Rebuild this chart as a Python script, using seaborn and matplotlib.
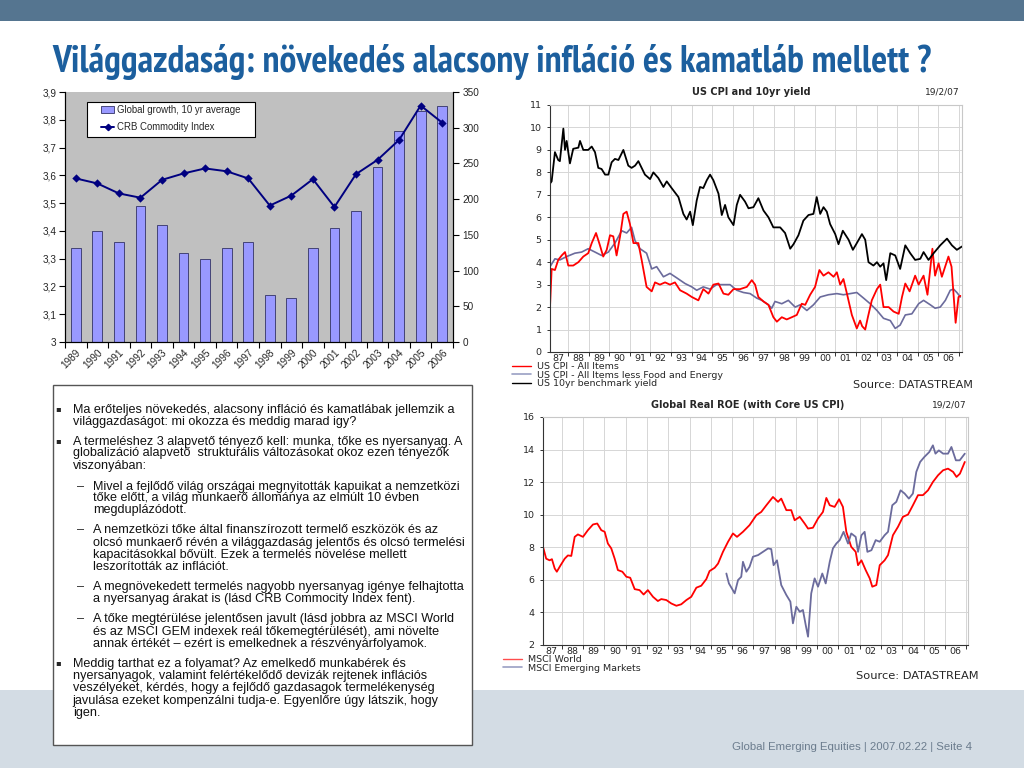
import numpy as np
import pandas as pd
import matplotlib
matplotlib.use("Agg")
import matplotlib.pyplot as plt
import seaborn as sns
from matplotlib import font_manager
from matplotlib.font_manager import FontProperties
from matplotlib.patches import Rectangle, Patch
from matplotlib.lines import Line2D
from matplotlib.ticker import FuncFormatter, MultipleLocator

# ---------------- data ----------------
years = ['1989', '1990', '1991', '1992', '1993', '1994', '1995', '1996', '1997',
         '1998', '1999', '2000', '2001', '2002', '2003', '2004', '2005', '2006']
growth = [3.34, 3.40, 3.36, 3.49, 3.42, 3.32, 3.30, 3.34, 3.36,
          3.17, 3.16, 3.34, 3.41, 3.47, 3.63, 3.76, 3.83, 3.85]
crb = [229, 222, 208, 202, 227, 236, 243, 239, 229,
       191, 205, 228, 189, 235, 255, 283, 331, 307]

year_short = ['87', '88', '89', '90', '91', '92', '93', '94', '95', '96',
              '97', '98', '99', '00', '01', '02', '03', '04', '05', '06']

# US 10yr benchmark yield (decimal year, %)
yld = [(1987.11, 7.5), (1987.19, 7.6), (1987.35, 8.9), (1987.51, 8.55), (1987.59, 8.5), (1987.76, 9.95),
       (1987.84, 9.0), (1987.92, 9.4), (1988.08, 8.4), (1988.24, 9.05), (1988.49, 9.1), (1988.57, 9.4),
       (1988.73, 9.0), (1988.97, 9.0), (1989.14, 9.15), (1989.30, 8.9), (1989.46, 8.2), (1989.62, 8.15),
       (1989.79, 7.9), (1989.95, 7.9), (1990.11, 8.45), (1990.27, 8.6), (1990.44, 8.55), (1990.68, 9.0),
       (1990.92, 8.3), (1991.08, 8.2), (1991.25, 8.3), (1991.41, 8.5), (1991.57, 8.2), (1991.73, 7.9),
       (1991.98, 7.7), (1992.14, 8.0), (1992.38, 7.75), (1992.63, 7.35), (1992.79, 7.6), (1993.03, 7.3),
       (1993.36, 6.9), (1993.60, 6.15), (1993.76, 5.9), (1993.93, 6.25), (1994.06, 5.65), (1994.25, 6.75),
       (1994.41, 7.35), (1994.57, 7.3), (1994.74, 7.65), (1994.90, 7.9), (1995.06, 7.65), (1995.31, 7.05),
       (1995.47, 6.1), (1995.63, 6.55), (1995.79, 6.0), (1996.04, 5.65), (1996.20, 6.55), (1996.36, 7.0),
       (1996.60, 6.7), (1996.77, 6.4), (1997.01, 6.45), (1997.25, 6.85), (1997.50, 6.3), (1997.74, 6.0),
       (1997.98, 5.55), (1998.31, 5.55), (1998.55, 5.3), (1998.80, 4.6), (1998.96, 4.8), (1999.20, 5.2),
       (1999.44, 5.85), (1999.69, 6.1), (1999.93, 6.15), (2000.09, 6.9), (2000.26, 6.15), (2000.42, 6.45),
       (2000.58, 6.25), (2000.74, 5.7), (2000.99, 5.25), (2001.15, 4.8), (2001.36, 5.4), (2001.64, 5.0),
       (2001.85, 4.55), (2002.01, 4.8), (2002.29, 5.25), (2002.45, 5.0), (2002.61, 4.0), (2002.85, 3.85),
       (2003.02, 4.0), (2003.18, 3.8), (2003.34, 3.95), (2003.47, 3.2), (2003.67, 4.4), (2003.91, 4.3),
       (2004.15, 3.7), (2004.40, 4.75), (2004.64, 4.4), (2004.88, 4.1), (2005.13, 4.15), (2005.29, 4.45),
       (2005.53, 4.1), (2005.78, 4.4), (2006.10, 4.75), (2006.43, 5.05), (2006.67, 4.75), (2006.91, 4.55),
       (2007.16, 4.7)]

# US CPI - All Items
cpi = [(1987.11, 2.0), (1987.19, 3.7), (1987.35, 3.65), (1987.51, 4.1), (1987.68, 4.3), (1987.84, 4.45),
       (1988.0, 3.85), (1988.24, 3.85), (1988.49, 4.0), (1988.73, 4.25), (1988.97, 4.4), (1989.14, 4.85),
       (1989.35, 5.3), (1989.54, 4.75), (1989.70, 4.25), (1989.87, 4.55), (1990.03, 5.2), (1990.19, 5.15),
       (1990.35, 4.3), (1990.52, 5.15), (1990.68, 6.15), (1990.84, 6.25), (1991.0, 5.7), (1991.17, 4.85),
       (1991.41, 4.85), (1991.57, 4.1), (1991.81, 2.9), (1992.06, 2.7), (1992.22, 3.1), (1992.46, 3.0),
       (1992.71, 3.1), (1992.95, 3.0), (1993.19, 3.1), (1993.44, 2.75), (1993.76, 2.6), (1994.01, 2.45),
       (1994.33, 2.3), (1994.57, 2.8), (1994.82, 2.6), (1995.06, 3.0), (1995.31, 3.05), (1995.55, 2.6),
       (1995.79, 2.55), (1996.04, 2.8), (1996.36, 2.8), (1996.69, 2.9), (1996.93, 3.2), (1997.09, 3.0),
       (1997.25, 2.45), (1997.50, 2.25), (1997.74, 2.1), (1997.98, 1.55), (1998.15, 1.35), (1998.39, 1.55),
       (1998.63, 1.45), (1998.88, 1.55), (1999.12, 1.65), (1999.36, 2.15), (1999.53, 2.1), (1999.77, 2.55),
       (2000.01, 2.9), (2000.22, 3.65), (2000.42, 3.4), (2000.66, 3.55), (2000.91, 3.35), (2001.07, 3.55),
       (2001.23, 3.0), (2001.39, 3.25), (2001.56, 2.6), (2001.80, 1.65), (2002.04, 1.05), (2002.20, 1.4),
       (2002.30, 1.15), (2002.45, 1.0), (2002.58, 1.55), (2002.77, 2.3), (2003.02, 2.8), (2003.18, 3.0),
       (2003.34, 2.0), (2003.59, 2.0), (2003.83, 1.8), (2004.08, 1.7), (2004.24, 2.45), (2004.40, 3.05),
       (2004.61, 2.7), (2004.88, 3.4), (2005.05, 3.0), (2005.29, 3.4), (2005.48, 2.55), (2005.72, 4.6),
       (2005.85, 3.4), (2006.02, 3.95), (2006.18, 3.35), (2006.50, 4.25), (2006.65, 3.8), (2006.85, 1.3),
       (2006.99, 2.45), (2007.08, 2.5)]

# US CPI - All Items less Food and Energy
core = [(1987.11, 3.8), (1987.35, 4.15), (1987.59, 4.1), (1987.92, 4.25), (1988.32, 4.4), (1988.65, 4.45),
        (1988.97, 4.6), (1989.30, 4.45), (1989.62, 4.3), (1989.95, 4.45), (1990.27, 4.85), (1990.60, 5.4),
        (1990.84, 5.3), (1991.08, 5.55), (1991.25, 4.95), (1991.49, 4.6), (1991.81, 4.4), (1992.06, 3.7),
        (1992.30, 3.8), (1992.63, 3.35), (1992.95, 3.5), (1993.28, 3.3), (1993.68, 3.05), (1994.01, 2.9),
        (1994.25, 2.75), (1994.57, 2.9), (1994.90, 2.8), (1995.22, 3.0), (1995.55, 3.0), (1995.87, 3.0),
        (1996.20, 2.75), (1996.52, 2.65), (1996.85, 2.6), (1997.17, 2.4), (1997.42, 2.3), (1997.74, 2.1),
        (1997.90, 1.95), (1998.06, 2.25), (1998.39, 2.15), (1998.71, 2.3), (1999.04, 2.0), (1999.28, 2.1),
        (1999.61, 1.85), (1999.93, 2.1), (2000.26, 2.45), (2000.66, 2.55), (2001.07, 2.6), (2001.39, 2.55),
        (2001.72, 2.6), (2002.04, 2.65), (2002.37, 2.4), (2002.69, 2.15), (2003.02, 1.85), (2003.34, 1.5),
        (2003.67, 1.4), (2003.91, 1.05), (2004.15, 1.2), (2004.40, 1.65), (2004.72, 1.7), (2005.05, 2.15),
        (2005.29, 2.3), (2005.62, 2.1), (2005.85, 1.95), (2006.10, 2.0), (2006.35, 2.3), (2006.59, 2.75),
        (2006.75, 2.8), (2006.91, 2.65), (2007.08, 2.45)]

# Global real ROE: MSCI World
world = [(1987.11, 8.03), (1987.26, 7.3), (1987.42, 7.2), (1987.53, 7.27), (1987.66, 6.7), (1987.76, 6.5),
         (1987.92, 6.86), (1988.13, 7.3), (1988.28, 7.5), (1988.44, 7.47), (1988.60, 8.64), (1988.75, 8.79),
         (1988.99, 8.64), (1989.22, 9.05), (1989.46, 9.4), (1989.66, 9.46), (1989.85, 9.05), (1990.01, 8.95),
         (1990.16, 8.23), (1990.32, 7.93), (1990.48, 7.3), (1990.63, 6.6), (1990.84, 6.5), (1991.03, 6.19),
         (1991.21, 6.13), (1991.42, 5.43), (1991.65, 5.37), (1991.84, 5.1), (1992.04, 5.37), (1992.28, 4.96),
         (1992.51, 4.7), (1992.67, 4.82), (1992.91, 4.76), (1993.14, 4.55), (1993.38, 4.41), (1993.61, 4.5),
         (1993.85, 4.76), (1994.08, 4.96), (1994.32, 5.52), (1994.55, 5.64), (1994.79, 6.05), (1994.94, 6.54),
         (1995.18, 6.74), (1995.34, 7.0), (1995.57, 7.72), (1995.81, 8.34), (1996.04, 8.85), (1996.23, 8.64),
         (1996.51, 8.95), (1996.82, 9.36), (1997.14, 9.97), (1997.37, 10.17), (1997.61, 10.58), (1997.92, 11.09),
         (1998.16, 10.79), (1998.31, 10.99), (1998.55, 10.28), (1998.78, 10.28), (1998.94, 9.66), (1999.18, 9.87),
         (1999.41, 9.46), (1999.57, 9.15), (1999.80, 9.2), (2000.04, 9.77), (2000.27, 10.17), (2000.43, 11.03),
         (2000.59, 10.58), (2000.82, 10.48), (2001.03, 10.95), (2001.21, 10.48), (2001.37, 8.95), (2001.60, 8.03),
         (2001.81, 7.72), (2001.92, 6.9), (2002.08, 7.2), (2002.28, 6.6), (2002.47, 6.09), (2002.59, 5.58),
         (2002.78, 5.68), (2002.94, 6.9), (2003.17, 7.2), (2003.33, 7.52), (2003.56, 8.74), (2003.80, 9.26),
         (2004.03, 9.87), (2004.27, 10.01), (2004.50, 10.58), (2004.74, 11.2), (2004.97, 11.2), (2005.21, 11.5),
         (2005.44, 12.01), (2005.68, 12.42), (2005.92, 12.73), (2006.15, 12.83), (2006.39, 12.63), (2006.55, 12.32),
         (2006.71, 12.52), (2006.94, 13.24)]

# Global real ROE: MSCI Emerging Markets
em = [(1995.73, 6.39), (1995.85, 5.78), (1995.99, 5.47), (1996.12, 5.17), (1996.28, 5.99), (1996.43, 6.19),
      (1996.51, 7.11), (1996.67, 6.5), (1996.82, 6.8), (1996.98, 7.42), (1997.22, 7.52), (1997.45, 7.72),
      (1997.69, 7.93), (1997.84, 7.89), (1997.95, 6.9), (1998.11, 7.2), (1998.31, 5.68), (1998.55, 5.07),
      (1998.74, 4.66), (1998.86, 3.33), (1999.02, 4.35), (1999.18, 4.04), (1999.33, 4.15), (1999.46, 3.23),
      (1999.57, 2.51), (1999.72, 5.17), (1999.88, 6.09), (2000.04, 5.58), (2000.24, 6.39), (2000.40, 5.78),
      (2000.59, 7.11), (2000.74, 7.93), (2000.90, 8.23), (2001.06, 8.44), (2001.24, 8.95), (2001.45, 8.23),
      (2001.60, 8.85), (2001.81, 8.64), (2001.92, 7.72), (2002.08, 8.74), (2002.23, 8.95), (2002.36, 7.72),
      (2002.55, 7.82), (2002.75, 8.44), (2002.94, 8.34), (2003.17, 8.74), (2003.33, 8.95), (2003.53, 10.58),
      (2003.72, 10.79), (2003.92, 11.5), (2004.11, 11.3), (2004.31, 10.99), (2004.50, 11.3), (2004.66, 12.63),
      (2004.84, 13.24), (2005.04, 13.55), (2005.27, 13.85), (2005.44, 14.26), (2005.56, 13.75), (2005.72, 13.95),
      (2005.92, 13.75), (2006.15, 13.75), (2006.31, 14.16), (2006.52, 13.34), (2006.70, 13.34), (2006.94, 13.75)]

title = "Világgazdaság: növekedés alacsony infláció és kamatláb mellett ?"
footer = "Global Emerging Equities | 2007.02.22 | Seite 4"

# (kind, y-pixel, text): b = bullet, c = continuation, d = dash item, e = dash continuation
body = [
    ('b', 410.0, "Ma erőteljes növekedés, alacsony infláció és kamatlábak jellemzik a"),
    ('c', 421.7, "világgazdaságot: mi okozza és meddig marad igy?"),
    ('b', 441.7, "A termeléshez 3 alapvető tényező kell: munka, tőke es nyersanyag. A"),
    ('c', 453.3, "globalizáció alapvető  strukturális változásokat okoz ezen tényezők"),
    ('c', 465.7, "viszonyában:"),
    ('d', 486.7, "Mivel a fejlődő világ országai megnyitották kapuikat a nemzetközi"),
    ('e', 498.3, "tőke előtt, a világ munkaerő állománya az elmúlt 10 évben"),
    ('e', 509.7, "megduplázódott."),
    ('d', 530.0, "A nemzetközi tőke által finanszírozott termelő eszközök és az"),
    ('e', 542.7, "olcsó munkaerő révén a világgazdaság jelentős és olcsó termelési"),
    ('e', 555.0, "kapacitásokkal bővült. Ezek a termelés növelése mellett"),
    ('e', 566.7, "leszorították az inflációt."),
    ('d', 587.3, "A megnövekedett termelés nagyobb nyersanyag igénye felhajtotta"),
    ('e', 599.3, "a nyersanyag árakat is (lásd CRB Commocity Index fent)."),
    ('d', 619.3, "A tőke megtérülése jelentősen javult (lásd jobbra az MSCI World"),
    ('e', 631.7, "és az MSCI GEM indexek reál tőkemegtérülését), ami növelte"),
    ('e', 644.0, "annak értékét – ezért is emelkednek a részvényárfolyamok."),
    ('b', 664.0, "Meddig tarthat ez a folyamat? Az emelkedő munkabérek és"),
    ('c', 676.0, "nyersanyagok, valamint felértékelődő devizák rejtenek inflációs"),
    ('c', 688.3, "veszélyeket, kérdés, hogy a fejlődő gazdasagok termelékenység"),
    ('c', 700.7, "javulása ezeket kompenzálni tudja-e. Egyenlőre úgy látszik, hogy"),
    ('c', 712.7, "igen."),
]

# ---------------- style ----------------
sns.set_theme(style="ticks")
plt.rcParams['font.family'] = ['DejaVu Sans']
ARIAL = ['Liberation Sans', 'DejaVu Sans']

# pick a condensed bold face for the slide title if one is installed
title_fp = None
cond = ('condensed', 'semi-condensed', 'extra-condensed', 'ultra-condensed')
cands = []
for f in font_manager.fontManager.ttflist:
    nm = f.name.lower()
    is_cond = (f.stretch in cond) or ('condensed' in nm) or ('narrow' in nm)
    wt = f.weight if isinstance(f.weight, int) else {'bold': 700, 'normal': 400}.get(f.weight, 400)
    if is_cond and wt >= 600 and f.style == 'normal' and 'mono' not in nm:
        score = (0 if ('narrow' in nm or 'arial' in nm) else 1,
                 0 if f.stretch == 'condensed' or 'condensed' in nm else 1, abs(wt - 700))
        cands.append((score, f.fname))
if cands:
    cands.sort()
    title_fp = FontProperties(fname=cands[0][1])
else:
    title_fp = FontProperties(family='Liberation Sans', weight='bold')

W, H = 1024, 768
fig = plt.figure(figsize=(W / 100, H / 100), dpi=100)
fig.patch.set_facecolor('white')


def fx(p):
    return p / W


def fy(p):
    return 1 - p / H


def rect(x0, y0, x1, y1):
    return [fx(x0), fy(y1), (x1 - x0) / W, (y1 - y0) / H]


# slide decoration
fig.add_artist(Rectangle((0, fy(21)), 1, 21 / H, transform=fig.transFigure,
                         facecolor='#557590', edgecolor='none', zorder=0))
fig.add_artist(Rectangle((0, 0), 1, fy(690), transform=fig.transFigure,
                         facecolor='#d3dce4', edgecolor='none', zorder=0))
fig.add_artist(Rectangle((fx(53), fy(745)), 419 / W, 360 / H, transform=fig.transFigure,
                         facecolor='white', edgecolor='#555555', lw=1.0, zorder=1))

# title, sized to span the same width as in the slide
title_fp.set_size(23)
t = fig.text(fx(52), fy(62), title, ha='left', va='center', fontproperties=title_fp,
             color='#1c5f9e', weight='bold')
r = fig.canvas.get_renderer()
w = t.get_window_extent(r).width
t.set_fontsize(23 * 876 / w)

# ---------------- left chart ----------------
df_left = pd.DataFrame({'year': years, 'growth': growth, 'crb': crb})
ax1 = fig.add_axes(rect(65, 92, 453, 342))
ax1.set_facecolor('#c0c0c0')
sns.barplot(data=df_left, x='year', y='growth', ax=ax1, color='#9999ff', saturation=1,
            width=0.45, edgecolor='#333366', linewidth=0.6)
ax2 = ax1.twinx()
sns.pointplot(data=df_left, x='year', y='crb', ax=ax2, color='#000080', markers='D',
              markersize=3.2, linewidth=1.4, errorbar=None)
ax1.set_ylim(3, 3.9)
ax2.set_ylim(0, 350)
ax1.set_xlim(-0.5, len(years) - 0.5)


def comma_fmt(v, pos):
    s = f'{v:.1f}'
    if s.endswith('.0'):
        s = s[:-2]
    return s.replace('.', ',')


ax1.yaxis.set_major_locator(MultipleLocator(0.1))
ax1.yaxis.set_major_formatter(FuncFormatter(comma_fmt))
ax2.yaxis.set_major_locator(MultipleLocator(50))
for a in (ax1, ax2):
    a.set_xlabel('')
    a.set_ylabel('')
    a.spines['top'].set_visible(False)
    for s in a.spines.values():
        s.set_color('black')
        s.set_linewidth(0.8)
ax1.set_xticks(range(len(years)))
ax1.set_xticklabels(years, rotation=45, ha='right', va='top', rotation_mode='anchor',
                    fontsize=7.2, family=ARIAL)
ax1.set_xticks(np.arange(len(years) + 1) - 0.5, minor=True)
ax1.tick_params(axis='x', which='major', length=0, pad=4)
ax1.tick_params(axis='x', which='minor', length=4, width=0.8, color='black', direction='out')
ax1.tick_params(axis='y', length=4, width=0.8, color='black', direction='out', labelsize=7.2, pad=2)
ax2.tick_params(axis='y', length=4, width=0.8, color='black', direction='out', labelsize=7.2, pad=3)
for lab in ax1.get_yticklabels() + ax2.get_yticklabels():
    lab.set_family(ARIAL)

ax2.add_patch(Rectangle((fx(87), fy(137)), 168 / W, 35 / H, transform=fig.transFigure,
                        facecolor='white', edgecolor='black', lw=0.8, zorder=4, clip_on=False))
ax2.legend([Patch(facecolor='#9999ff', edgecolor='#333366', lw=0.6),
            Line2D([], [], color='#000080', marker='D', markersize=3.2, lw=1.4)],
           ['Global growth, 10 yr average', 'CRB Commodity Index'],
           loc='upper left', bbox_to_anchor=(fx(101), fy(105)), bbox_transform=fig.transFigure,
           frameon=False, prop={'family': ARIAL, 'size': 6.9}, handlelength=1.4,
           handletextpad=0.3, labelspacing=0.75, borderpad=0, borderaxespad=0)

# ---------------- datastream charts ----------------
T0, T1 = 1987.11, 2007.16
edges = list(range(1988, 2008))
mids = [1987.5 + i for i in range(len(year_short))]


def ds_style(ax, ylo, yhi, ystep):
    ax.set_facecolor('white')
    ax.set_xlim(T0, T1)
    ax.set_ylim(ylo, yhi)
    ax.set_yticks(np.arange(ylo, yhi + 0.01, ystep))
    ax.set_xticks(edges)
    ax.set_xticklabels([])
    ax.set_xticks(mids, minor=True)
    ax.set_xticklabels(year_short, minor=True)
    ax.grid(True, which='major', color='#d6d6d6', lw=0.7)
    ax.set_axisbelow(True)
    ax.tick_params(axis='x', which='major', length=3, width=0.7, color='#333333', direction='out')
    ax.tick_params(axis='x', which='minor', length=0, labelsize=6.8, pad=1.5)
    ax.tick_params(axis='y', length=2, width=0.7, color='#333333', labelsize=6.8, pad=4)
    ax.set_xlabel('')
    ax.set_ylabel('')
    for s in ('top', 'right'):
        ax.spines[s].set_color('#c8c8c8')
        ax.spines[s].set_linewidth(0.8)
    for s in ('left', 'bottom'):
        ax.spines[s].set_color('#333333')
        ax.spines[s].set_linewidth(0.8)


RED = '#ff0000'
GREY = '#6b6b9c'

ax3 = fig.add_axes(rect(550, 105, 962, 352))
for series, col, lw in ((core, GREY, 1.2), (cpi, RED, 1.3), (yld, 'black', 1.3)):
    tt, vv = zip(*series)
    sns.lineplot(x=list(tt), y=list(vv), ax=ax3, color=col, linewidth=lw,
                 estimator=None, sort=False, legend=False)
ds_style(ax3, 0, 11, 1)
fig.text(fx(751), fy(92), 'US CPI and 10yr yield', ha='center', va='center',
         fontsize=7, weight='bold')
fig.text(fx(960), fy(92), '19/2/07', ha='right', va='center', fontsize=6.5)
ax3.legend([Line2D([], [], color=RED, lw=1.0), Line2D([], [], color='#9aa0c4', lw=1.2),
            Line2D([], [], color='black', lw=1.0)],
           ['US CPI - All Items', 'US CPI - All Items less Food and Energy', 'US 10yr benchmark yield'],
           loc='upper left', bbox_to_anchor=(fx(511.7), fy(362.5)), bbox_transform=fig.transFigure,
           frameon=False, fontsize=6.8, handlelength=2.0, handletextpad=0.7,
           labelspacing=-0.08, borderpad=0, borderaxespad=0)
fig.text(fx(853), fy(385), 'Source: DATASTREAM', ha='left', va='center', fontsize=8)

ax4 = fig.add_axes(rect(543, 417, 968, 645))
for series, col, lw in ((world, RED, 1.3), (em, GREY, 1.3)):
    tt, vv = zip(*series)
    sns.lineplot(x=list(tt), y=list(vv), ax=ax4, color=col, linewidth=lw,
                 estimator=None, sort=False, legend=False)
ds_style(ax4, 2, 16, 2)
ax4.set_xlim(1987.11, 2007.09)
fig.text(fx(748), fy(405.5), 'Global Real ROE (with Core US CPI)', ha='center', va='center',
         fontsize=7, weight='bold')
fig.text(fx(967), fy(405.5), '19/2/07', ha='right', va='center', fontsize=6.5)
ax4.legend([Line2D([], [], color='#ff4d4d', lw=1.0), Line2D([], [], color='#9aa0c4', lw=1.2)],
           ['MSCI World', 'MSCI Emerging Markets'],
           loc='upper left', bbox_to_anchor=(fx(503), fy(655.5)), bbox_transform=fig.transFigure,
           frameon=False, fontsize=6.8, handlelength=2.0, handletextpad=0.7,
           labelspacing=-0.08, borderpad=0, borderaxespad=0)
fig.text(fx(856), fy(676), 'Source: DATASTREAM', ha='left', va='center', fontsize=8.2)

# ---------------- text box ----------------
BODY_FS = 9.1
for kind, ypix, txt in body:
    if kind == 'b':
        fig.text(fx(55), fy(ypix - 1), '▪', ha='left', va='center', fontsize=6,
                 family=['DejaVu Sans'], zorder=3)
    if kind == 'd':
        fig.text(fx(76.7), fy(ypix), '–', ha='left', va='center', fontsize=BODY_FS,
                 family=ARIAL, zorder=3)
    x0 = 72.7 if kind in ('b', 'c') else 92.7
    fig.text(fx(x0), fy(ypix), txt, ha='left', va='center', fontsize=BODY_FS, family=ARIAL,
             color='#111111', zorder=3)

fig.text(fx(732), fy(746.5), footer, ha='left', va='center', fontsize=8.2,
         color='#6b7c8d', family=ARIAL)

fig.savefig('out.png', dpi=100)
